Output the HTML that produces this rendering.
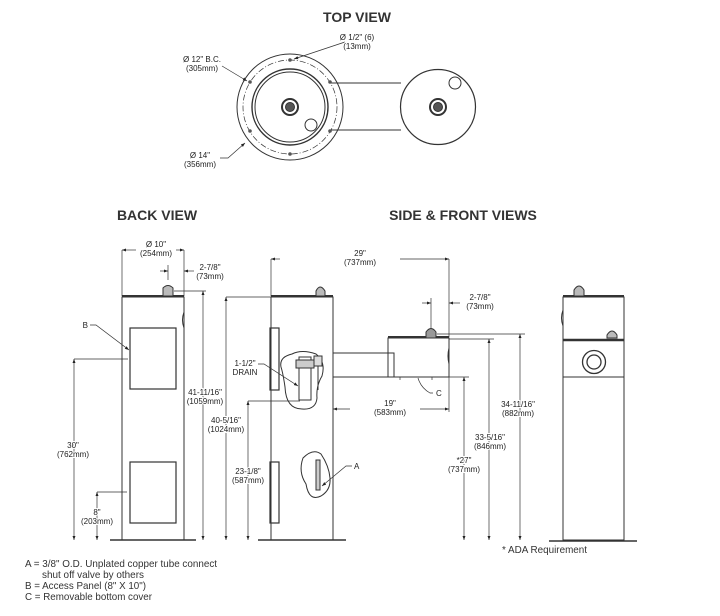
<!DOCTYPE html>
<html><head><meta charset="utf-8"><style>
html,body{margin:0;padding:0;background:#fff}
svg{display:block}
text{font-family:"Liberation Sans",Arial,sans-serif;fill:#222}
.t{font-size:8px;text-anchor:middle;stroke:#fff;stroke-width:2px;paint-order:stroke}
.h{font-size:14px;font-weight:bold;text-anchor:middle;fill:#333}
.n{font-size:10.5px;fill:#333}
</style></head><body>
<svg width="720" height="616" viewBox="0 0 720 616" xmlns="http://www.w3.org/2000/svg">
<defs>
<marker id="a" viewBox="0 0 8 6" refX="8" refY="3" markerWidth="6" markerHeight="5" orient="auto-start-reverse"><path d="M0,0L8,3L0,6z" fill="#222"/></marker>
</defs>
<g stroke="#333" fill="none" stroke-width="1">
<circle cx="290" cy="107" r="53"/>
<circle cx="290" cy="107" r="47" stroke-dasharray="6,2,1,2" stroke-width="0.7"/>
<circle cx="290" cy="107" r="38" stroke-width="1.4"/>
<circle cx="290" cy="107" r="35"/>
<circle cx="290" cy="107" r="8" stroke-width="2"/>
<circle cx="290" cy="107" r="4.5" fill="#555"/>
<circle cx="311" cy="125" r="6"/>
<line x1="330" y1="83" x2="401" y2="83"/>
<line x1="330" y1="130" x2="401" y2="130"/>
<circle cx="438" cy="107" r="37.5" stroke-width="1.2"/>
<circle cx="438" cy="107" r="8" stroke-width="2"/>
<circle cx="438" cy="107" r="4.5" fill="#555"/>
<circle cx="455" cy="83" r="6"/>
<g fill="#555" stroke="none"><circle cx="290" cy="60" r="1.8"/><circle cx="290" cy="154" r="1.8"/><circle cx="250" cy="82" r="1.8"/><circle cx="250" cy="131" r="1.8"/><circle cx="330" cy="82" r="1.8"/><circle cx="330" cy="131" r="1.8"/></g>
<line x1="345" y1="42" x2="294" y2="59" marker-end="url(#a)" stroke-width="0.7"/>
<line x1="222" y1="66" x2="247" y2="81" marker-end="url(#a)" stroke-width="0.7"/>
<polyline points="220,158 228,158 245,143" marker-end="url(#a)" stroke-width="0.7"/>

<rect x="122" y="297" width="62" height="243"/>
<line x1="122" y1="296" x2="184" y2="296" stroke-width="2"/>
<line x1="110" y1="540" x2="196" y2="540" stroke-width="1.5"/>
<rect x="130" y="328" width="46" height="61" stroke-width="1.2"/>
<rect x="130" y="462" width="46" height="61" stroke-width="1.2"/>
<path d="M184,312 q-3,8 0,16"/>
<path d="M163,296 v-8 q5,-5 10,0 v8 z" fill="#bbb"/>
<line x1="122" y1="250" x2="122" y2="296" stroke-width="0.7"/>
<line x1="184" y1="250" x2="184" y2="296" stroke-width="0.7"/>
<line x1="136" y1="250" x2="122" y2="250" marker-end="url(#a)" stroke-width="0.7"/>
<line x1="176" y1="250" x2="184" y2="250" marker-end="url(#a)" stroke-width="0.7"/>
<line x1="168" y1="265" x2="168" y2="280" stroke-width="0.7"/>
<line x1="160" y1="271" x2="168" y2="271" marker-end="url(#a)" stroke-width="0.7"/>
<line x1="194" y1="271" x2="184" y2="271" marker-end="url(#a)" stroke-width="0.7"/>
<line x1="174" y1="291" x2="206" y2="291" stroke-width="0.7"/>
<line x1="203" y1="291" x2="203" y2="540" marker-start="url(#a)" marker-end="url(#a)" stroke-width="0.7"/>
<line x1="74" y1="359" x2="128" y2="359" stroke-width="0.7"/>
<line x1="74" y1="359" x2="74" y2="540" marker-start="url(#a)" marker-end="url(#a)" stroke-width="0.7"/>
<line x1="97" y1="492" x2="127" y2="492" stroke-width="0.7"/>
<line x1="97" y1="492" x2="97" y2="540" marker-start="url(#a)" marker-end="url(#a)" stroke-width="0.7"/>
<polyline points="90,325 96,325 129,350" marker-end="url(#a)" stroke-width="0.7"/>

<rect x="271" y="297" width="62" height="243"/>
<line x1="271" y1="296" x2="333" y2="296" stroke-width="2"/>
<line x1="258" y1="540" x2="346" y2="540" stroke-width="1.5"/>
<rect x="270" y="328" width="9" height="62" stroke-width="1.2"/>
<rect x="270" y="462" width="9" height="61" stroke-width="1.2"/>
<path d="M316,296 v-5 q4,-8 9,0 v5 z" fill="#bbb"/>
<rect x="333" y="353" width="61" height="24"/>
<rect x="388" y="338" width="61" height="39"/>
<line x1="388" y1="337" x2="449" y2="337" stroke-width="2"/>
<path d="M449,348 q-2,8 0,16"/>
<path d="M426,338 v-6 q5,-7 10,0 v6 z" fill="#999"/>
<path d="M292,354 q10,-5 24,0 q10,8 6,22 q-6,10 -5,22 q-1,12 -15,11 q-16,0 -17,-22 q-2,-14 -4,-20 q-2,-10 11,-13z"/>
<rect x="299" y="357" width="12" height="43"/>
<rect x="296" y="360" width="18" height="8" fill="#ccc"/>
<rect x="314" y="356" width="8" height="10" fill="#ddd"/>
<line x1="318" y1="366" x2="318" y2="390"/>
<path d="M303,458 q10,-10 18,-4 q8,12 9,24 q1,12 -9,18 q-12,6 -15,-12 q-8,-12 -3,-26z"/>
<rect x="316" y="460" width="4" height="30" fill="#ccc"/>
<line x1="271" y1="259" x2="271" y2="296" stroke-width="0.7"/>
<line x1="449" y1="259" x2="449" y2="337" stroke-width="0.7"/>
<line x1="449" y1="377" x2="449" y2="412" stroke-width="0.7"/>
<line x1="280" y1="259" x2="271" y2="259" marker-end="url(#a)" stroke-width="0.7"/>
<line x1="400" y1="259" x2="449" y2="259" marker-end="url(#a)" stroke-width="0.7"/>
<line x1="431" y1="298" x2="431" y2="328" stroke-width="0.7"/>
<line x1="422" y1="303" x2="431" y2="303" marker-end="url(#a)" stroke-width="0.7"/>
<line x1="460" y1="303" x2="449" y2="303" marker-end="url(#a)" stroke-width="0.7"/>
<line x1="350" y1="409" x2="333" y2="409" marker-end="url(#a)" stroke-width="0.7"/>
<line x1="420" y1="409" x2="449" y2="409" marker-end="url(#a)" stroke-width="0.7"/>
<line x1="437" y1="334" x2="525" y2="334" stroke-width="0.7"/>
<line x1="520" y1="334" x2="520" y2="540" marker-start="url(#a)" marker-end="url(#a)" stroke-width="0.7"/>
<line x1="449" y1="339" x2="494" y2="339" stroke-width="0.7"/>
<line x1="489" y1="339" x2="489" y2="540" marker-start="url(#a)" marker-end="url(#a)" stroke-width="0.7"/>
<line x1="449" y1="377" x2="469" y2="377" stroke-width="0.7"/>
<line x1="464" y1="377" x2="464" y2="540" marker-start="url(#a)" marker-end="url(#a)" stroke-width="0.7"/>
<line x1="226" y1="297" x2="271" y2="297" stroke-width="0.7"/>
<line x1="226" y1="297" x2="226" y2="540" marker-start="url(#a)" marker-end="url(#a)" stroke-width="0.7"/>
<line x1="248" y1="401" x2="300" y2="401" stroke-width="0.7"/>
<line x1="248" y1="401" x2="248" y2="540" marker-start="url(#a)" marker-end="url(#a)" stroke-width="0.7"/>
<polyline points="258,364 264,364 298,386" marker-end="url(#a)" stroke-width="0.7"/>
<polyline points="352,466 346,466 322,486" marker-end="url(#a)" stroke-width="0.7"/>
<path d="M418,378 q3,10 12,15 h3" stroke-width="0.7"/>
<path d="M400,377 v3 M432,377 v3" stroke-width="0.7"/>

<rect x="563" y="297" width="61" height="243"/>
<line x1="563" y1="296" x2="624" y2="296" stroke-width="2"/>
<line x1="563" y1="340" x2="624" y2="340" stroke-width="2.5"/>
<line x1="563" y1="377" x2="624" y2="377"/>
<line x1="549" y1="541" x2="637" y2="541" stroke-width="1.5"/>
<path d="M574,296 v-6 q5,-8 10,0 v6 z" fill="#bbb"/>
<path d="M607,338 v-3 q5,-8 10,0 v3 z" fill="#bbb"/>
<path d="M563,310 q-3,8 0,16"/>
<circle cx="594" cy="362" r="11.5" stroke-width="1.3"/>
<circle cx="594" cy="362" r="7" stroke-width="1.3"/>
</g>

<text class="h" x="357" y="22">TOP VIEW</text>
<text class="h" x="157" y="220">BACK VIEW</text>
<text class="h" x="463" y="220">SIDE &amp; FRONT VIEWS</text>
<text class="t" x="357" y="40">Ø 1/2" (6)</text><text class="t" x="357" y="49">(13mm)</text>
<text class="t" x="202" y="62">Ø 12" B.C.</text><text class="t" x="202" y="71">(305mm)</text>
<text class="t" x="200" y="158">Ø 14"</text><text class="t" x="200" y="167">(356mm)</text>
<text class="t" x="156" y="247">Ø 10"</text><text class="t" x="156" y="256">(254mm)</text>
<text class="t" x="210" y="270">2-7/8"</text><text class="t" x="210" y="279">(73mm)</text>
<text class="t" x="205" y="395">41-11/16"</text><text class="t" x="205" y="404">(1059mm)</text>
<text class="t" x="226" y="423">40-5/16"</text><text class="t" x="226" y="432">(1024mm)</text>
<text class="t" x="248" y="474">23-1/8"</text><text class="t" x="248" y="483">(587mm)</text>
<text class="t" x="245" y="366">1-1/2"</text><text class="t" x="245" y="375">DRAIN</text>
<text class="t" x="73" y="448">30"</text><text class="t" x="73" y="457">(762mm)</text>
<text class="t" x="97" y="515">8"</text><text class="t" x="97" y="524">(203mm)</text>
<text class="t" x="88" y="328" style="text-anchor:end">B</text>
<text class="t" x="360" y="256">29"</text><text class="t" x="360" y="265">(737mm)</text>
<text class="t" x="480" y="300">2-7/8"</text><text class="t" x="480" y="309">(73mm)</text>
<text class="t" x="390" y="406">19"</text><text class="t" x="390" y="415">(583mm)</text>
<text class="t" x="436" y="396" style="text-anchor:start">C</text>
<text class="t" x="354" y="469" style="text-anchor:start">A</text>
<text class="t" x="518" y="407">34-11/16"</text><text class="t" x="518" y="416">(882mm)</text>
<text class="t" x="490" y="440">33-5/16"</text><text class="t" x="490" y="449">(846mm)</text>
<text class="t" x="464" y="463">*27"</text><text class="t" x="464" y="472">(737mm)</text>
<text class="n" x="502" y="553" textLength="85" lengthAdjust="spacingAndGlyphs">* ADA Requirement</text>
<text class="n" x="25" y="567" textLength="192" lengthAdjust="spacingAndGlyphs">A = 3/8" O.D. Unplated copper tube connect</text>
<text class="n" x="42" y="578" textLength="102" lengthAdjust="spacingAndGlyphs">shut off valve by others</text>
<text class="n" x="25" y="589" textLength="121" lengthAdjust="spacingAndGlyphs">B = Access Panel (8" X 10")</text>
<text class="n" x="25" y="600" textLength="127" lengthAdjust="spacingAndGlyphs">C = Removable bottom cover</text>
</svg>
</body></html>
